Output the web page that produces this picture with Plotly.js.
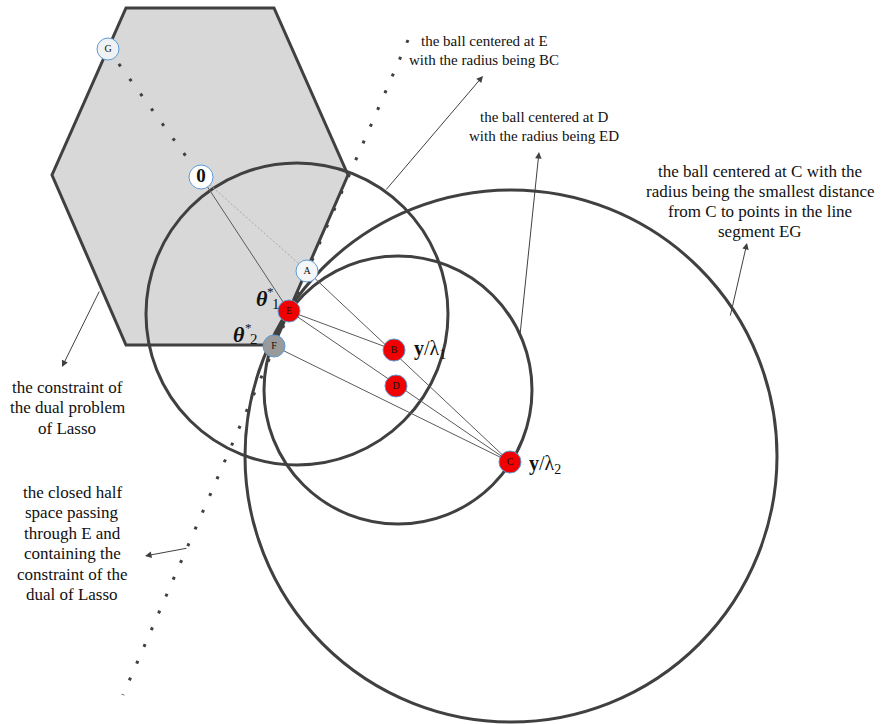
<!DOCTYPE html>
<html>
<head>
<meta charset="utf-8">
<script src="https://cdn.plot.ly/plotly-3.0.1.min.js"></script>
<style>html,body{margin:0;padding:0;background:#fff;}#chart{width:881px;height:724px;}</style>
</head>
<body>
<div id="chart"></div>
<script>
// ---- data (diagram coordinates, y grows downward) ----
const hexX = [126, 274, 348, 274, 126, 52];
const hexY = [8, 8, 175, 345, 345, 175];

const pointNames = ['G', '0', 'A', 'E', 'F', 'B', 'D', 'C'];
const pointX = [108, 201, 307, 289, 274, 394, 396, 510];
const pointY = [49, 177, 271, 311, 346, 350, 386, 462];
const pointFill = ['#f0f1f3', '#ffffff', '#f4f6f8', '#f00000', '#9a9a9a', '#f00000', '#f00000', '#f00000'];
const pointSize = [22, 24, 22, 22, 22, 22, 22, 22];

const ballNames = ['E', 'D', 'C'];
const ballCX = [297, 398, 511];
const ballCY = [314, 390, 456];
const ballR = [151, 134, 266];

// thin segments: [from, to]
const segFrom = ['0', 'A', 'E', 'E', 'F'];
const segTo   = ['E', 'C', 'B', 'C', 'C'];
const dottedFrom = ['0'];
const dottedTo = ['A'];

// dotted guide lines
const halfSpaceX = [408, 123];
const halfSpaceY = [40, 695];
const egLineX = [108, 201];
const egLineY = [49, 177];

// callouts (one entry per callout; lines split by <br>)
const calloutText = [
  'the ball centered at E<br>with the radius being BC',
  'the ball centered at D<br>with the radius being ED',
  'the ball centered at C with the<br>radius being the smallest distance<br>from C to points in the line<br>segment EG',
  'the constraint of<br>the dual problem<br>of Lasso',
  'the closed half<br>space passing<br>through E and<br>containing the<br>constraint of the<br>dual of Lasso'
];
const calloutX = [484, 544, 760, 67, 72];
const calloutTopY = [41, 117, 171, 387, 492];
const calloutLineGap = [19, 19, 20, 20.5, 20.5];
const calloutFontSize = [15, 15, 17, 17, 17];
const arrowTailX = [385, 520, 730, 100, 188];
const arrowTailY = [191, 335, 317, 290, 548];
const arrowHeadX = [483, 539, 747, 62, 145];
const arrowHeadY = [76, 152, 243, 367, 556];

// math labels
const thetaX = [262, 239];
const thetaY = [298, 334];
const starX = [270, 248];
const starY = [291, 327];
const subText = ['1', '2'];
const subX = [276, 254];
const subY = [304, 339];
const ratioText = ['<b>y</b>/λ<sub>1</sub>', '<b>y</b>/λ<sub>2</sub>'];
const ratioX = [412, 527];
const ratioY = [349, 464];

// ---- build ----
const idx = n => pointNames.indexOf(n);
const serif = 'Liberation Serif, Times New Roman, serif';
const dark = '#404040';

const shapes = [];
shapes.push({
  type: 'path', xref: 'x', yref: 'y', layer: 'below',
  path: 'M' + hexX.map((x, i) => x + ',' + hexY[i]).join(' L') + ' Z',
  fillcolor: '#d8d8d8', line: {color: dark, width: 3}
});
ballCX.forEach((cx, i) => {
  shapes.push({
    type: 'circle', xref: 'x', yref: 'y', layer: 'below',
    x0: cx - ballR[i], x1: cx + ballR[i], y0: ballCY[i] - ballR[i], y1: ballCY[i] + ballR[i],
    line: {color: dark, width: 3}, fillcolor: 'rgba(0,0,0,0)'
  });
});

const traces = [];
traces.push({x: halfSpaceX, y: halfSpaceY, mode: 'lines', hoverinfo: 'skip',
  line: {color: dark, width: 3, dash: '3px,15.3px'}});
traces.push({x: egLineX, y: egLineY, mode: 'lines', hoverinfo: 'skip',
  line: {color: dark, width: 3, dash: '3px,15.4px'}});
segFrom.forEach((f, i) => {
  traces.push({x: [pointX[idx(f)], pointX[idx(segTo[i])]], y: [pointY[idx(f)], pointY[idx(segTo[i])]],
    mode: 'lines', hoverinfo: 'skip', line: {color: '#5a5a5a', width: 1}});
});
dottedFrom.forEach((f, i) => {
  traces.push({x: [pointX[idx(f)], pointX[idx(dottedTo[i])]], y: [pointY[idx(f)], pointY[idx(dottedTo[i])]],
    mode: 'lines', hoverinfo: 'skip', line: {color: '#a8a8a8', width: 1, dash: '2px,2px'}});
});
traces.push({
  x: pointX, y: pointY, mode: 'markers+text', hoverinfo: 'skip',
  text: pointNames.map(n => n === '0' ? '<b>0</b>' : n),
  textposition: 'middle center',
  textfont: {family: serif, color: '#111', size: pointNames.map(n => n === '0' ? 19 : 10)},
  marker: {size: pointSize, color: pointFill, opacity: 1, line: {color: '#5b9bd5', width: 1}}
});

const annotations = [];
const txt = (x, y, t, size, extra) => Object.assign({x: x, y: y, xref: 'x', yref: 'y', text: t, showarrow: false,
  xanchor: 'center', yanchor: 'middle', font: {family: serif, size: size, color: '#111'}}, extra || {});
calloutText.forEach((t, i) => {
  t.split('<br>').forEach((line, k) => {
    annotations.push(txt(calloutX[i], calloutTopY[i] + k * calloutLineGap[i], line, calloutFontSize[i]));
  });
  annotations.push({x: arrowHeadX[i], y: arrowHeadY[i], ax: arrowTailX[i], ay: arrowTailY[i],
    xref: 'x', yref: 'y', axref: 'x', ayref: 'y', text: '', showarrow: true,
    arrowhead: 2, arrowsize: 1.3, arrowwidth: 1, arrowcolor: dark});
});
thetaX.forEach((x, i) => {
  annotations.push(txt(x, thetaY[i], '<b><i>θ</i></b>', 22));
  annotations.push(txt(starX[i], starY[i], '*', 13));
  annotations.push(txt(subX[i], subY[i], subText[i], 15));
});
ratioX.forEach((x, i) => {
  annotations.push(txt(x, ratioY[i], ratioText[i], 20, {xanchor: 'left'}));
});

const layout = {
  width: 881, height: 724, margin: {l: 0, r: 0, t: 0, b: 0},
  paper_bgcolor: '#ffffff', plot_bgcolor: '#ffffff', showlegend: false,
  xaxis: {range: [0, 881], visible: false, fixedrange: true},
  yaxis: {range: [724, 0], visible: false, fixedrange: true},
  shapes: shapes, annotations: annotations
};
Plotly.newPlot('chart', traces, layout, {staticPlot: true, displayModeBar: false});
</script>
</body>
</html>
